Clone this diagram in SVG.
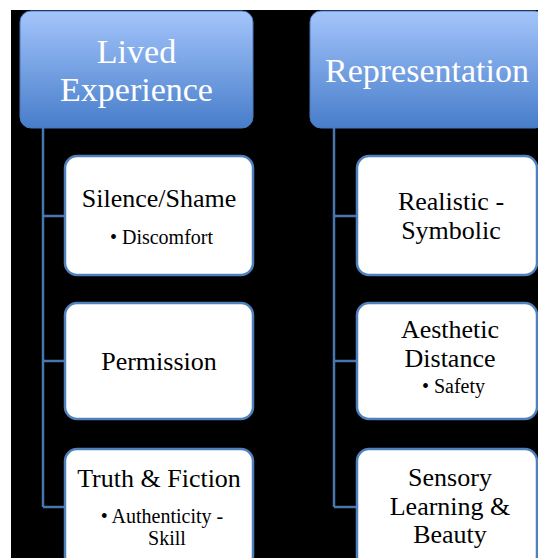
<svg xmlns="http://www.w3.org/2000/svg" width="538" height="558" viewBox="0 0 538 558">
<defs>
<linearGradient id="hg" x1="0" y1="0" x2="0" y2="1">
<stop offset="0" stop-color="#a4c5fb"/>
<stop offset="1" stop-color="#477dca"/>
</linearGradient>
<style>
.hdr{fill:url(#hg);stroke:#4779c0;stroke-width:1}
.box{fill:#ffffff;stroke:#4f81bd;stroke-width:2.5}
.ht{font-size:34px;fill:#ffffff;text-anchor:middle}
.t{font-size:26px;fill:#000000;text-anchor:middle}
.s{font-size:20px;fill:#000000;text-anchor:middle}
.c{fill:none;stroke:#4a76b0;stroke-width:2.5}
</style>
</defs>
<rect x="0" y="0" width="538" height="558" fill="#ffffff"/>
<rect x="11" y="10" width="527" height="548" fill="#000000"/>
<g id="connectors">
<path class="c" d="M43 128 V507 M43 216 H65 M43 361 H65 M43 507 H65"/>
<path class="c" d="M334 128 V507 M334 216 H357 M334 361 H357 M334 507 H357"/>
</g>
<g font-family="'Liberation Serif', 'DejaVu Serif', serif">
<g id="lived">
<rect class="hdr" x="20" y="11" width="233" height="117" rx="11"/>
<text class="ht" x="136.5" y="63">Lived</text>
<text class="ht" x="136.5" y="101">Experience</text>
</g>
<g id="representation">
<rect class="hdr" x="310" y="11" width="236" height="117" rx="11"/>
<text class="ht" x="427" y="82">Representation</text>
</g>
<g id="silence">
<rect class="box" x="65" y="156" width="188" height="119" rx="12"/>
<text class="t" x="159" y="207">Silence/Shame</text>
<text class="s" x="161.5" y="244">• Discomfort</text>
</g>
<g id="permission">
<rect class="box" x="65" y="303" width="188" height="116" rx="12"/>
<text class="t" x="159" y="370">Permission</text>
</g>
<g id="truth">
<rect class="box" x="65" y="449" width="188" height="119" rx="12"/>
<text class="t" x="159" y="487">Truth &amp; Fiction</text>
<text class="s" x="162" y="523">• Authenticity -</text>
<text class="s" x="167" y="545">Skill</text>
</g>
<g id="realistic">
<rect class="box" x="357" y="156" width="180" height="119" rx="12"/>
<text class="t" x="451" y="210">Realistic -</text>
<text class="t" x="451" y="239">Symbolic</text>
</g>
<g id="aesthetic">
<rect class="box" x="357" y="303" width="180" height="116" rx="12"/>
<text class="t" x="450" y="338">Aesthetic</text>
<text class="t" x="450" y="367">Distance</text>
<text class="s" x="453.5" y="393">• Safety</text>
</g>
<g id="sensory">
<rect class="box" x="357" y="449" width="180" height="119" rx="12"/>
<text class="t" x="450" y="486">Sensory</text>
<text class="t" x="450" y="515">Learning &amp;</text>
<text class="t" x="450" y="543">Beauty</text>
</g>
</g>
</svg>
